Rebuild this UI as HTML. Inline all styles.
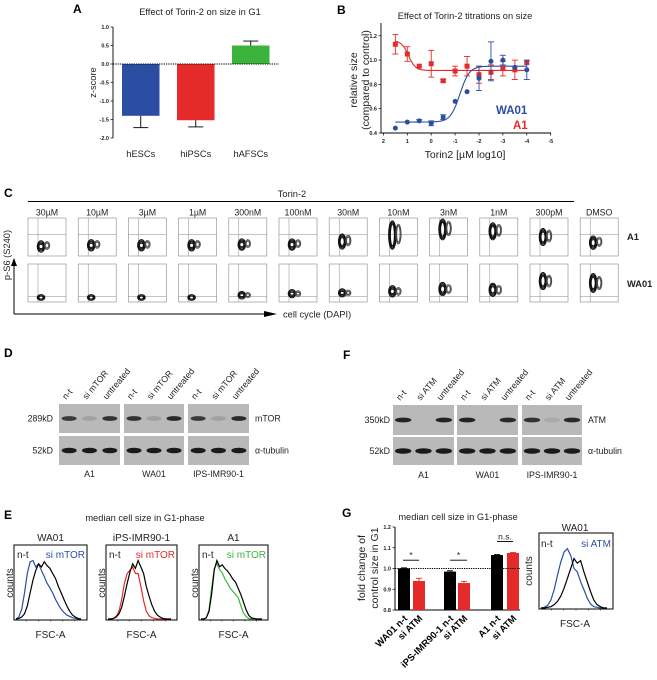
<!DOCTYPE html>
<html><head><meta charset="utf-8">
<style>
body{margin:0;background:#fff;}
svg{display:block;font-family:"Liberation Sans",sans-serif;}
</style></head>
<body>
<svg id="fig" width="657" height="680" viewBox="0 0 657 680">
<g id="pA"></g>
<g id="pB"></g>
<g id="pC"></g>
<g id="pD"></g>
<g id="pF"></g>
<g id="pE"></g>
<g id="pG"></g>
</svg>
<script>
// ---- Panel A data
const aCats=["hESCs","hiPSCs","hAFSCs"];
const aVals=[-1.4,-1.52,0.5];
const aErr=[0.32,0.18,0.12];
const aTicks=[1.0,0.5,0.0,-0.5,-1.0,-1.5,-2.0];
// ---- Panel B data
const bX=[1.5,1,0.5,0,-0.5,-1,-1.5,-2,-2.5,-3,-3.5,-4];
const bWA01=[0.44,0.49,0.50,0.48,0.53,0.66,0.74,0.85,0.99,1.00,0.94,0.92];
const bWA01Err=[0,0,0.01,0.02,0.02,0,0,0.1,0.16,0.04,0,0.08];
const bA1=[1.13,1.05,0.95,0.97,0.83,0.91,0.95,0.88,0.90,0.93,0.92,0.98];
const bA1Err=[0.08,0.06,0,0.11,0.01,0.04,0.08,0.07,0.06,0.06,0.08,0];
const bXTicks=[2,1,0,-1,-2,-3,-4,-5];
const bYTicks=[0.4,0.6,0.8,1.0,1.2];
const bFitWA01=[0.49,0.95,-1.2,2.2];
const bFitA1=[1.16,0.915,0.95,3];
// ---- Panel C
const cConc=["30µM","10µM","3µM","1µM","300nM","100nM","30nM","10nM","3nM","1nM","300pM","DMSO"];
const cA1Y=[0.75,0.72,0.72,0.72,0.7,0.7,0.62,0.45,0.3,0.35,0.5,0.65];
const cA1H=[0.3,0.3,0.3,0.3,0.3,0.3,0.4,0.75,0.55,0.45,0.45,0.35];
const cWAY=[0.88,0.88,0.88,0.88,0.82,0.78,0.76,0.72,0.66,0.68,0.45,0.5];
const cWAH=[0.15,0.15,0.15,0.15,0.2,0.22,0.22,0.3,0.35,0.35,0.45,0.5];
// ---- Panel E histograms
const eNt1=[0,1,3,8,20,40,60,75,85,80,88,82,78,70,62,50,40,30,20,12,6,3,1,0];
const eSi1=[0,3,15,40,70,88,90,80,85,75,65,55,48,40,30,22,15,10,6,4,2,1,0,0];
const eNt2=[0,0,1,3,8,18,35,55,72,85,78,90,80,70,50,35,22,12,6,3,1,0,0,0];
const eSi2=[0,0,1,4,12,30,55,70,75,80,70,70,50,28,12,5,2,1,0,0,0,0,0,0];
const eNt3=[0,0,2,12,40,80,95,85,88,82,78,72,65,60,50,40,28,15,6,2,1,0,0,0];
const eSi3=[0,0,2,15,50,82,90,80,75,65,58,50,45,40,35,22,10,4,1,0,0,0,0,0];
// ---- Panel G
const gCats=["WA01 n-t","si ATM","iPS-IMR90-1 n-t","si ATM","A1 n-t","si ATM"];
const gVals=[1.0,0.94,0.985,0.93,1.065,1.075];
const gErr=[0.003,0.013,0.004,0.008,0.002,0.002];
const gTicks=[0.8,0.9,1.0,1.1,1.2];
const gHistNt=[0,0,1,2,5,10,18,30,45,60,75,68,72,55,40,25,12,5,2,0,0];
const gHistSi=[0,1,4,12,28,50,70,85,90,80,60,55,40,28,15,6,2,1,0,0,0];

const NS="http://www.w3.org/2000/svg";
function mk(p,tag,at,txt){const e=document.createElementNS(NS,tag);for(const k in at)e.setAttribute(k,at[k]);if(txt!==undefined)e.textContent=txt;p.appendChild(e);return e;}
function T(p,x,y,s,sz,extra){const a=Object.assign({x:x,y:y,'font-size':sz||8,fill:'#222'},extra||{});return mk(p,'text',a,s);}
const BLUE="#2b4ea2",RED="#e52a2a",GREEN="#3cb43c";

// ===== Panel A
(function(){
const g=document.getElementById('pA');
let t=T(g,73,13,"A",12,{'font-weight':'bold',fill:'#000'});

t=T(g,200,15,"Effect of Torin-2 on size in G1",9.3,{'text-anchor':'middle'});

const x0=113,x1=279;const y=v=>27+(1-v)*37;
mk(g,'line',{x1:x0,y1:y(1),x2:x0,y2:y(-2),stroke:'#000','stroke-width':0.9});
aTicks.forEach(v=>{mk(g,'line',{x1:x0-2.5,y1:y(v),x2:x0,y2:y(v),stroke:'#000','stroke-width':0.7});
 const tt=T(g,x0-4,y(v)+2,v.toFixed(1),5.5,{'text-anchor':'end','font-weight':'bold'});
 });
const cols=[BLUE,RED,GREEN];
aCats.forEach((c,i)=>{const bx=122+i*55,w=37.5;const top=Math.min(y(0),y(aVals[i])),h=Math.abs(y(aVals[i])-y(0));
 const r=mk(g,'rect',{x:bx,y:top,width:w,height:h,fill:cols[i]});
 
 const ev=aVals[i]+(aVals[i]<0?-aErr[i]:aErr[i]);const cx=bx+w/2;
 mk(g,'line',{x1:cx,y1:y(aVals[i]),x2:cx,y2:y(ev),stroke:'#000','stroke-width':0.9});
 mk(g,'line',{x1:cx-7.5,y1:y(ev),x2:cx+7.5,y2:y(ev),stroke:'#000','stroke-width':0.9});
 const lt=T(g,cx,157,c,9.3,{'text-anchor':'middle'});});
mk(g,'line',{x1:x0,y1:y(0),x2:x1,y2:y(0),stroke:'#000','stroke-width':0.9,'stroke-dasharray':'1.3,1'});
t=T(g,96,y(-0.5),"z-score",9.3,{'text-anchor':'middle',transform:`rotate(-90 96 ${y(-0.5)})`});

})();

// ===== Panel B
(function(){
const g=document.getElementById('pB');
let t=T(g,337,14,"B",12,{'font-weight':'bold',fill:'#000'});
t=T(g,465,19,"Effect of Torin-2 titrations on size",9.3,{'text-anchor':'middle'});
const X=v=>383.4+(2-v)*23.9,Y=v=>133-(v-0.4)*121.5;
mk(g,'line',{x1:381,y1:23,x2:381,y2:133,stroke:'#000','stroke-width':0.9});
mk(g,'line',{x1:381,y1:133,x2:551,y2:133,stroke:'#000','stroke-width':0.9});
bYTicks.forEach(v=>{mk(g,'line',{x1:378.5,y1:Y(v),x2:381,y2:Y(v),stroke:'#000','stroke-width':0.7});
 const tt=T(g,377,Y(v)+2,v.toFixed(1),5.5,{'text-anchor':'end','font-weight':'bold'});});
bXTicks.forEach(v=>{mk(g,'line',{x1:X(v),y1:133,x2:X(v),y2:135.5,stroke:'#000','stroke-width':0.7});
 const tt=T(g,X(v),143,String(v),5.5,{'text-anchor':'middle','font-weight':'bold'});});
function fit(p,col,name){let d='';for(let v=1.5;v>=-4.001;v-=0.05){const f=p[1]+(p[0]-p[1])/(1+Math.pow(10,(p[2]-v)*p[3]));d+=(d?'L':'M')+X(v).toFixed(1)+','+Y(f).toFixed(1);}
 const pa=mk(g,'path',{d:d,fill:'none',stroke:col,'stroke-width':1.1});}
fit(bFitA1,RED,'fit-curve-a1');fit(bFitWA01,BLUE,'fit-curve-wa01');
function pts(vals,err,col,sq,name){vals.forEach((v,i)=>{const cx=X(bX[i]),cy=Y(v);
 if(err[i]>0){mk(g,'line',{x1:cx,y1:Y(v-err[i]),x2:cx,y2:Y(v+err[i]),stroke:col,'stroke-width':0.9});
 [v-err[i],v+err[i]].forEach(e=>mk(g,'line',{x1:cx-3,y1:Y(e),x2:cx+3,y2:Y(e),stroke:col,'stroke-width':0.9}));}
 const m=sq?mk(g,'rect',{x:cx-2.5,y:cy-2.5,width:5,height:5,fill:col}):mk(g,'circle',{cx:cx,cy:cy,r:2.5,fill:col});
 });}
pts(bA1,bA1Err,RED,true,'point-a1');pts(bWA01,bWA01Err,BLUE,false,'point-wa01');
t=T(g,496,114,"WA01",11.5,{'font-weight':'bold',fill:BLUE});
t=T(g,513,129,"A1",11.5,{'font-weight':'bold',fill:RED});
t=T(g,465,158,"Torin2 [µM log10]",10.5,{'text-anchor':'middle'});
t=T(g,357,80,"relative size",10.5,{'text-anchor':'middle',transform:'rotate(-90 357 80)'});
t=T(g,369,80,"(compared to control)",10.5,{'text-anchor':'middle',transform:'rotate(-90 369 80)'});
})();

// ===== Panel C
(function(){
const g=document.getElementById('pC');
let t=T(g,4,197,"C",12,{'font-weight':'bold',fill:'#000'});
t=T(g,292,197,"Torin-2",9.3,{'text-anchor':'middle'});
mk(g,'line',{x1:28,y1:201.5,x2:574,y2:201.5,stroke:'#000','stroke-width':1});
const bw=38;
cConc.forEach((c,i)=>{const bx=28+i*50.2;
 const lt=T(g,bx+bw/2,215.5,c,8.8,{'text-anchor':'middle'});
 [[218,cA1Y[i],cA1H[i],0.44],[264,cWAY[i],cWAH[i],0.85]].forEach((r,ri)=>{const by=r[0],bh=38;
  const box=mk(g,'rect',{x:bx,y:by,width:bw,height:bh,fill:'#fff',stroke:'#888','stroke-width':0.6});
  
  mk(g,'line',{x1:bx+10,y1:by,x2:bx+10,y2:by+bh,stroke:'#888','stroke-width':0.5});
  mk(g,'line',{x1:bx,y1:by+bh*r[3],x2:bx+bw,y2:by+bh*r[3],stroke:'#888','stroke-width':0.5});
  const cy=by+bh*r[1],h=bh*r[2]/2;
  for(let k=0;k<4;k++){mk(g,'ellipse',{cx:bx+13,cy:cy,rx:3.8-k*0.6,ry:Math.max(h-k*1.2,1.5),fill:'none',stroke:'#111','stroke-width':1});}
  if(i>3||ri==0){for(let k=0;k<3;k++)mk(g,'ellipse',{cx:bx+19,cy:cy-(ri?0:1),rx:2.8-k*0.6,ry:Math.max(h*0.7-k,1.2),fill:'none',stroke:'#444','stroke-width':0.7});}
 });});
t=T(g,627,240,"A1",9.3,{'font-weight':'bold'});
t=T(g,627,287,"WA01",9.3,{'font-weight':'bold'});
mk(g,'path',{d:'M14,314 L14,264 M14,314 L266,314',stroke:'#000','stroke-width':1,fill:'none'});
mk(g,'path',{d:'M11,266 L14,258 L17,266Z M264,311 L277,314 L264,317Z',fill:'#000'});
t=T(g,283,317.5,"cell cycle (DAPI)",9.3);
t=T(g,10,255,"p-S6 (S240)",9.3,{'text-anchor':'middle',transform:'rotate(-90 10 255)'});
})();

// ===== Blots
function blot(g,boxes,rows,lanes,kd,prot,labX,protX,labelsY,bandW,strength){
 boxes.forEach((bx,bi)=>{rows.forEach((r,ri)=>{
  const b=mk(g,'rect',{x:bx[0],y:r[0],width:bx[1]-bx[0],height:r[1]-r[0],fill:'#b9b9b9'});
  for(let l=0;l<3;l++){const cx=bx[0]+(bx[1]-bx[0])*(l*2+1)/6;const s=ri==0?strength[bi][l]:1;
   if(s>0.05)mk(g,'ellipse',{cx:cx,cy:(r[0]+r[1])/2,rx:bandW,ry:ri==0?2.4:2.8,fill:'#1a1a1a',opacity:s});}
 });
 ['n-t',lanes,'untreated'].forEach((ln,l)=>{const cx=bx[0]+(bx[1]-bx[0])*(l*2+1)/6;
   const tt=T(g,cx-3,rows[0][0]-4,ln,8.8,{transform:`rotate(-50 ${cx-3} ${rows[0][0]-4})`});});
 const cl=["A1","WA01","IPS-IMR90-1"][bi];const tt=T(g,(bx[0]+bx[1])/2,labelsY,cl,8.8,{'text-anchor':'middle'});});
 rows.forEach((r,ri)=>{let tt=T(g,labX,(r[0]+r[1])/2+3,kd[ri],8.8,{'text-anchor':'end'});
  tt=T(g,protX,(r[0]+r[1])/2+3,prot[ri],8.8);});
}
(function(){const g=document.getElementById('pD');
let t=T(g,4,357,"D",12,{'font-weight':'bold',fill:'#000'});
blot(g,[[59,120],[124,184],[188,249]],[[404,433],[436,465]],'si mTOR',['289kD','52kD'],['mTOR','α-tubulin'],53,255,477,7.5,[[0.8,0.15,0.85],[0.85,0.15,0.9],[0.8,0.15,0.9]]);})();
(function(){const g=document.getElementById('pF');
let t=T(g,343,359,"F",12,{'font-weight':'bold',fill:'#000'});
blot(g,[[393,454],[457,518],[522,582]],[[405,435],[437,465]],'si ATM',['350kD','52kD'],['ATM','α-tubulin'],390,588,478,8.2,[[0.95,0,0.95],[0.95,0.05,0.9],[0.85,0.1,0.9]]);})();

// ===== Histograms
function hist(g,bx,by,bw,bh,a,b,colB,name){
 const box=mk(g,'rect',{x:bx,y:by,width:bw,height:bh,fill:'#fff',stroke:'#000','stroke-width':1});
 const mx=Math.max(...a,...b);
 [[b,colB,'histogram-si'],[a,'#000','histogram-nt']].forEach(s=>{let d='';s[0].forEach((v,i)=>{const x=bx+2+i*(bw-8)/(s[0].length-1);const y=by+bh-1-v/mx*(bh*0.78);d+=(d?'L':'M')+x.toFixed(1)+','+y.toFixed(1);});
  const p=mk(g,'path',{d:d,fill:'none',stroke:s[1],'stroke-width':1.2});});
 for(let k=1;k<6;k++)mk(g,'line',{x1:bx+k*bw/6,y1:by+bh,x2:bx+k*bw/6,y2:by+bh+1.5,stroke:'#000','stroke-width':0.5});
}
(function(){const g=document.getElementById('pE');
let t=T(g,4,519,"E",12,{'font-weight':'bold',fill:'#000'});
t=T(g,145,521,"median cell size in G1-phase",9.3,{'text-anchor':'middle'});
const P=[[14,87,"WA01",eNt1,eSi1,BLUE],[106,177,"iPS-IMR90-1",eNt2,eSi2,RED],[199,268,"A1",eNt3,eSi3,GREEN]];
P.forEach(p=>{hist(g,p[0],545,p[1]-p[0],75,p[3],p[4],p[5],'histogram-'+p[2]);
 let tt=T(g,(p[0]+p[1])/2,541,p[2],10,{'text-anchor':'middle'});
 tt=T(g,p[0]+3,558,"n-t",10);
 tt=T(g,p[1]-2,558,"si mTOR",10,{'text-anchor':'end',fill:p[5]});
 tt=T(g,(p[0]+p[1])/2,638,"FSC-A",10,{'text-anchor':'middle'});
 tt=T(g,p[0]-1,583,"counts",10,{'text-anchor':'middle',transform:`rotate(-90 ${p[0]-1} 583)`});});
})();

// ===== Panel G
(function(){const g=document.getElementById('pG');
let t=T(g,342,517,"G",12,{'font-weight':'bold',fill:'#000'});
t=T(g,458,520,"median cell size in G1-phase",9.3,{'text-anchor':'middle'});
const Y=v=>610-(v-0.8)*207.5;
mk(g,'line',{x1:395,y1:Y(1.2),x2:395,y2:Y(0.8),stroke:'#000','stroke-width':1});
mk(g,'line',{x1:395,y1:Y(0.8),x2:520,y2:Y(0.8),stroke:'#000','stroke-width':1});
gTicks.forEach(v=>{mk(g,'line',{x1:392.5,y1:Y(v),x2:395,y2:Y(v),stroke:'#000','stroke-width':0.7});
 const tt=T(g,391,Y(v)+2,v.toFixed(1),5.5,{'text-anchor':'end','font-weight':'bold'});});
const bxs=[398,413,444,458,491,507];
gVals.forEach((v,i)=>{const col=i%2?RED:'#000';const r=mk(g,'rect',{x:bxs[i],y:Y(v),width:12,height:Y(0.8)-Y(v),fill:col});
 
 const cx=bxs[i]+6;mk(g,'line',{x1:cx,y1:Y(v),x2:cx,y2:Y(v+gErr[i]),stroke:col,'stroke-width':0.9});mk(g,'line',{x1:cx-3,y1:Y(v+gErr[i]),x2:cx+3,y2:Y(v+gErr[i]),stroke:col,'stroke-width':0.9});
 const lx=bxs[i]+10,ly=619;const tt=T(g,lx,ly,gCats[i],9.5,{'text-anchor':'end','font-weight':'bold',fill:'#000',transform:`rotate(-45 ${lx} ${ly})`});});
mk(g,'line',{x1:395,y1:Y(1.0),x2:520,y2:Y(1.0),stroke:'#000','stroke-width':0.9,'stroke-dasharray':'1.3,1'});
[[403,419,"*"],[450,467,"*"],[497,513,"n.s."]].forEach((s,i)=>{const yy=i==2?Y(1.13):Y(1.04);mk(g,'line',{x1:s[0],y1:yy,x2:s[1],y2:yy,stroke:'#000','stroke-width':0.9});
 const tt=T(g,(s[0]+s[1])/2,yy-2,s[2],8.5,{'text-anchor':'middle'});});
t=T(g,365,568,"fold change of",10.5,{'text-anchor':'middle',transform:'rotate(-90 365 568)'});
t=T(g,378,568,"control size in G1",10.5,{'text-anchor':'middle',transform:'rotate(-90 378 568)'});
hist(g,539,533,74,76,gHistNt,gHistSi,BLUE,'histogram-g-wa01');
t=T(g,575,531,"WA01",10,{'text-anchor':'middle'});
t=T(g,541,547,"n-t",10);
t=T(g,611,547,"si ATM",10,{'text-anchor':'end',fill:BLUE});
t=T(g,575,627,"FSC-A",10,{'text-anchor':'middle'});
t=T(g,532,571,"counts",10,{'text-anchor':'middle',transform:'rotate(-90 532 571)'});
})();
</script>
</body></html>
